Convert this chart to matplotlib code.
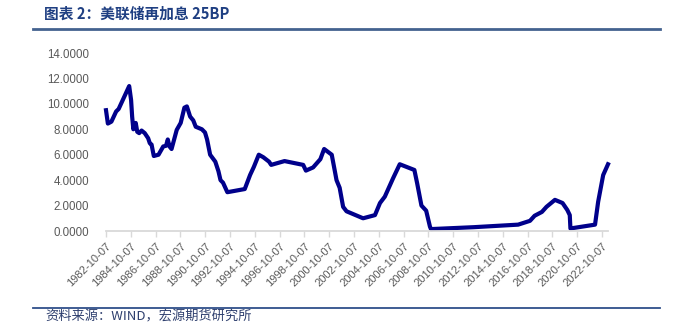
import matplotlib
matplotlib.use('Agg')
import matplotlib.pyplot as plt
from matplotlib.lines import Line2D
import pandas as pd

# 联邦基金利率
dates = ['1982-10-07', '1982-12-01', '1983-03-15', '1983-08-01', '1983-10-15', '1984-08-20',
         '1984-10-15', '1984-11-15', '1984-12-20', '1985-03-01', '1985-04-15', '1985-06-10',
         '1985-08-20', '1985-11-20', '1986-03-01', '1986-04-20', '1986-06-10', '1986-08-15',
         '1987-01-01', '1987-05-20', '1987-08-10', '1987-10-01', '1987-11-20', '1988-01-20',
         '1988-06-20', '1988-10-15', '1989-02-01', '1989-04-15', '1989-07-20', '1989-10-20',
         '1990-01-01', '1990-07-01', '1990-10-01', '1990-12-01', '1991-03-01', '1991-08-01',
         '1991-11-01', '1992-01-01', '1992-03-15', '1992-07-20', '1993-12-15', '1994-05-20',
         '1994-09-10', '1995-02-01', '1995-06-15', '1995-12-01', '1996-02-01', '1997-03-01',
         '1998-09-01', '1998-11-20', '1999-06-20', '2000-01-20', '2000-05-10', '2000-12-20',
         '2001-03-15', '2001-05-10', '2001-08-10', '2001-11-20', '2002-03-01', '2003-07-01',
         '2004-06-15', '2004-11-10', '2005-04-01', '2005-12-01', '2006-06-15', '2007-08-20',
         '2007-11-10', '2008-03-15', '2008-08-01', '2008-11-20', '2008-12-20', '2012-06-01',
         '2016-01-01', '2016-12-15', '2017-05-01', '2017-12-01', '2018-04-15', '2018-12-20',
         '2019-08-01', '2019-12-20', '2020-03-01', '2020-03-20', '2022-03-15', '2022-06-15',
         '2022-11-10', '2023-04-01']
rates = [9.5, 8.45, 8.6, 9.4, 9.6, 11.4,
         10.3, 9.0, 8.0, 8.5, 7.8, 7.7,
         7.9, 7.7, 7.3, 6.9, 6.8, 5.9,
         6.0, 6.65, 6.7, 7.2, 6.65, 6.45,
         7.95, 8.5, 9.7, 9.8, 9.0, 8.7,
         8.2, 8.0, 7.75, 7.2, 6.0, 5.45,
         4.7, 4.0, 3.8, 3.05, 3.3, 4.4,
         5.05, 6.0, 5.8, 5.45, 5.2, 5.5,
         5.2, 4.75, 5.0, 5.65, 6.45, 6.0,
         4.8, 4.0, 3.4, 1.9, 1.55, 1.0,
         1.25, 2.2, 2.7, 4.15, 5.25, 4.8,
         3.75, 2.0, 1.6, 0.35, 0.15, 0.3,
         0.5, 0.8, 1.2, 1.5, 1.9, 2.45,
         2.2, 1.65, 1.25, 0.2, 0.5, 2.3,
         4.4, 5.25]
tick_years = list(range(1982, 2023, 2))
y_ticks = [0, 2, 4, 6, 8, 10, 12, 14]

title_txt = '图表 2：美联储再加息 25BP'
source_txt = '资料来源：WIND，宏源期货研究所'

x = pd.to_datetime(dates)

fig = plt.figure(figsize=(6.76, 3.24), dpi=100)
W, H = 676, 324
ax = fig.add_axes([106 / W, (H - 231) / H, (608 - 106) / W, (231 - 53) / H])

ax.plot(x, rates, color='#00008B', lw=3.0, solid_joinstyle='round', clip_on=False)

ax.set_ylim(0, 14)
ax.set_xlim(pd.Timestamp('1982-10-07'), pd.Timestamp('2023-04-01'))
ax.set_yticks(y_ticks)
ax.set_yticklabels([f'{v:.4f}' for v in y_ticks], fontfamily='Liberation Sans',
                   fontsize=8.3, color='#595959')
tick_pos = [pd.Timestamp(f'{yr}-10-07') for yr in tick_years]
ax.set_xticks(tick_pos)
ax.set_xticklabels([f'{yr}-10-07' for yr in tick_years], rotation=45, ha='right',
                   rotation_mode='anchor', fontfamily='Liberation Sans', fontsize=8,
                   color='#595959')

for s in ['top', 'right', 'left']:
    ax.spines[s].set_visible(False)
ax.spines['bottom'].set_color('#D9D9D9')
ax.spines['bottom'].set_linewidth(1.3)
ax.tick_params(axis='y', length=0, pad=12)
ax.tick_params(axis='x', length=4, color='#D9D9D9', width=1, pad=3)

# 标题与分隔线
fig.text(44 / W, 1 - 14 / H, title_txt, fontsize=10.6, fontweight='bold', color='#1F3F82',
         family=['Noto Sans CJK SC', 'DejaVu Sans'], va='center', ha='left')
fig.add_artist(Line2D([33 / W, 660 / W], [1 - 29 / H, 1 - 29 / H], color='#44628F', lw=2))
fig.add_artist(Line2D([33 / W, 660 / W], [1 - 307.5 / H, 1 - 307.5 / H], color='#2F4F8A', lw=1.3))
fig.text(45 / W, 1 - 310 / H, source_txt, fontsize=9.5, style='italic', color='#2E3F6E',
         family=['Noto Sans CJK SC', 'DejaVu Sans'], va='top', ha='left')

fig.savefig('out.png', dpi=100)
